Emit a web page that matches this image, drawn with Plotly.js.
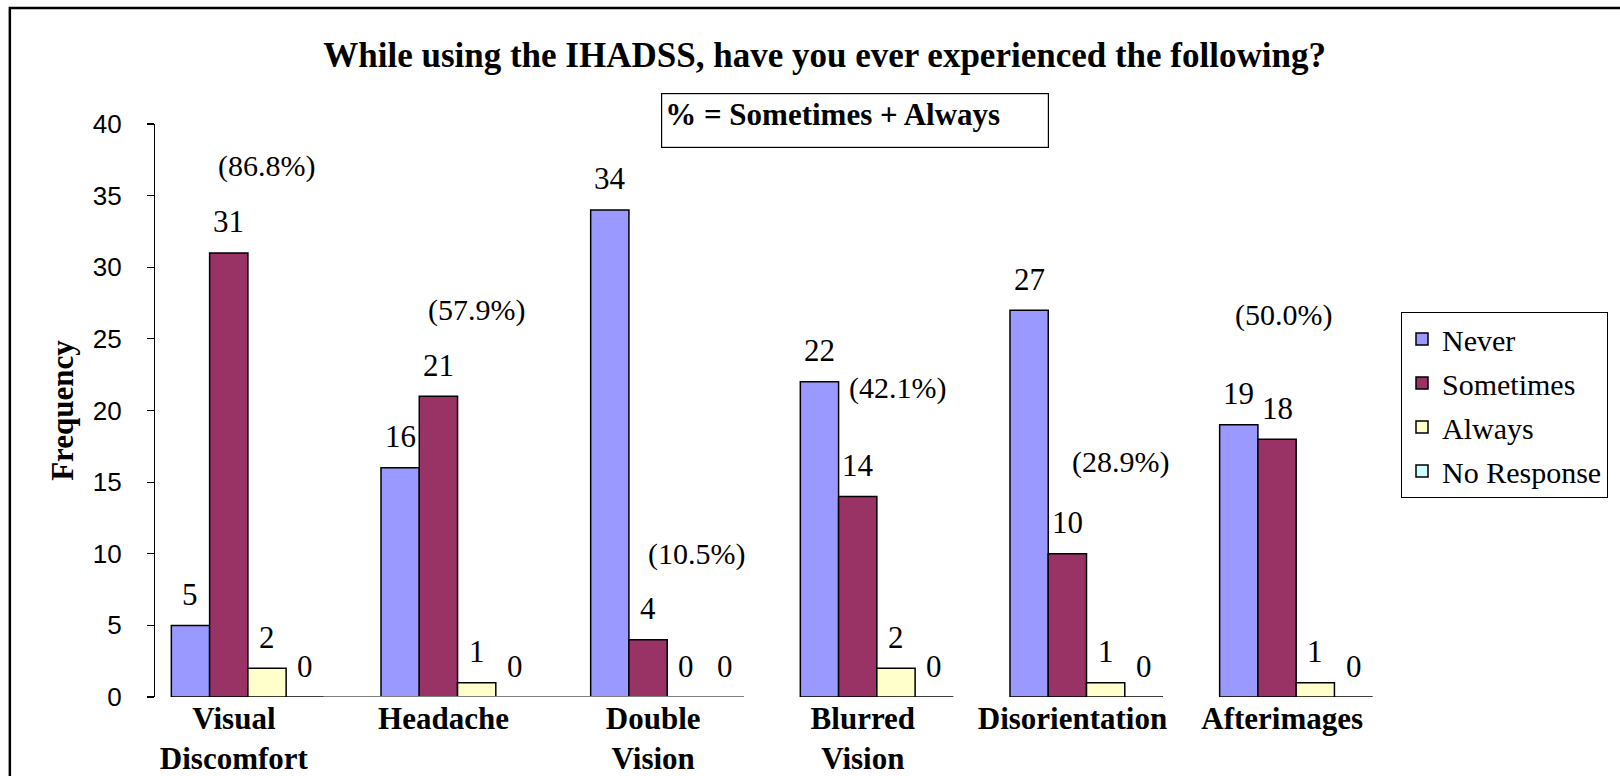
<!DOCTYPE html>
<html>
<head>
<meta charset="utf-8">
<script src="https://cdn.plot.ly/plotly-3.0.1.min.js"></script>
<style>html,body{margin:0;padding:0;background:#fff;}#chart{width:1620px;height:776px;}</style>
</head>
<body>
<div id="chart"></div>
<script>
// ---- data ----
const categories = ["Visual<br>Discomfort", "Headache", "Double<br>Vision", "Blurred<br>Vision", "Disorientation", "Afterimages"];
const seriesNames = ["Never", "Sometimes", "Always", "No Response"];
const never      = [5, 16, 34, 22, 27, 19];
const sometimes  = [31, 21, 4, 14, 10, 18];
const always     = [2, 1, 0, 2, 1, 1];
const noResponse = [0, 0, 0, 0, 0, 0];
const yTicks = [0, 5, 10, 15, 20, 25, 30, 35, 40];

// placement of the hand-positioned percentage labels (category offset, y value)
const pctLabelDx = [0.09, 0.09, 0.14, 0.10, 0.16, -0.06];
const pctLabelY  = [37.1, 27.0, 9.95, 21.6, 16.4, 26.7];

// ---- styles ----
const colors = ["#9999FF", "#993366", "#FFFFCC", "#CCFFFF"];
const serif = "Liberation Serif, Times New Roman, serif";
const sans = "Liberation Sans, Arial, sans-serif";
const bargap = 0.27;

const series = [never, sometimes, always, noResponse];
const xIdx = categories.map((c, i) => i);

const traces = series.map((vals, j) => ({
  type: "bar",
  name: seriesNames[j],
  x: xIdx,
  y: vals,
  legendgroup: "g" + j,
  marker: {color: colors[j], line: {color: "#000", width: 1.5}},
  hoverinfo: "y+name"
}));

const bw = (1 - bargap) / series.length;
const annotations = [];
series.forEach((vals, j) => {
  vals.forEach((v, i) => {
    annotations.push({
      xref: "x", yref: "y",
      x: i + (j - (series.length - 1) / 2) * bw,
      y: v, yanchor: "middle", yshift: 31,
      text: String(v), showarrow: false,
      font: {family: serif, size: 31, color: "#000"}
    });
  });
});
// percentage labels: (Sometimes + Always) / total
categories.forEach((c, i) => {
  const total = never[i] + sometimes[i] + always[i] + noResponse[i];
  const pct = (sometimes[i] + always[i]) / total * 100;
  annotations.push({
    xref: "x", yref: "y",
    x: i + pctLabelDx[i], y: pctLabelY[i], yanchor: "middle",
    text: "(" + pct.toFixed(1) + "%)", showarrow: false,
    font: {family: serif, size: 30, color: "#000"}
  });
});
// note box
annotations.push({
  xref: "paper", yref: "paper", x: 0.406, y: 1.054, xanchor: "left", yanchor: "top",
  text: "<b>% = Sometimes + Always</b>", showarrow: false,
  align: "left", valign: "top", width: 380, height: 47, borderpad: 3,
  bordercolor: "#000", borderwidth: 1.2, bgcolor: "#fff",
  font: {family: serif, size: 31, color: "#000"}
});

const shapes = [
  // outer frame
  {type: "rect", xref: "paper", yref: "paper", x0: -0.1165, x1: 1.3, y0: -0.5, y1: 1.2025,
   line: {color: "#000", width: 2.5}, fillcolor: "rgba(0,0,0,0)", layer: "below"},
  // partial grey category axis line
  {type: "line", xref: "x", yref: "y", x0: 0.36, x1: 2.365, y0: 0, y1: 0,
   line: {color: "#808080", width: 2}},
  {type: "line", xref: "x", yref: "y", x0: 0.5, x1: 0.5, y0: 0, y1: -0.25, line: {color: "#808080", width: 1}},
  {type: "line", xref: "x", yref: "y", x0: 1.5, x1: 1.5, y0: 0, y1: -0.25, line: {color: "#808080", width: 1}}
];

const layout = {
  width: 1620, height: 776,
  margin: {l: 155, r: 219, t: 124, b: 79, pad: 0},
  paper_bgcolor: "#fff", plot_bgcolor: "rgba(0,0,0,0)",
  barmode: "group", bargap: bargap, bargroupgap: 0,
  title: {
    text: "<b>While using the IHADSS, have you ever experienced the following?</b>",
    x: 0.509, xanchor: "center", y: 0.930, yanchor: "middle",
    font: {family: serif, size: 35, color: "#000"}
  },
  xaxis: {
    type: "linear", range: [-0.443, 5.5],
    tickmode: "array", tickvals: xIdx, ticktext: categories.map(c => "<b>" + c + "</b>"),
    showline: false, ticks: "", showgrid: false, zeroline: false,
    tickfont: {family: serif, size: 31, color: "#000"},
    ticklabelstandoff: 0, ticklabelshift: -14
  },
  yaxis: {
    range: [0, 40], tickmode: "array", tickvals: yTicks,
    showline: true, linecolor: "#000", linewidth: 1.2,
    ticks: "outside", ticklen: 7, tickcolor: "#000", tickwidth: 1.2,
    showgrid: false, zeroline: false,
    ticklabelstandoff: 20,
    tickfont: {family: sans, size: 26, color: "#000"},
    title: {text: "<b>Frequency</b>", standoff: 9, font: {family: serif, size: 31, color: "#000"}}
  },
  legend: {
    x: 1.0, xanchor: "left", y: 0.672, yanchor: "top",
    bordercolor: "#000", borderwidth: 1, bgcolor: "#fff",
    traceorder: "grouped", tracegroupgap: 2,
    font: {family: serif, size: 30, color: "#000"}
  },
  annotations: annotations,
  shapes: shapes,
  showlegend: true
};

Plotly.newPlot("chart", traces, layout, {displayModeBar: false, staticPlot: true});
</script>
</body>
</html>
